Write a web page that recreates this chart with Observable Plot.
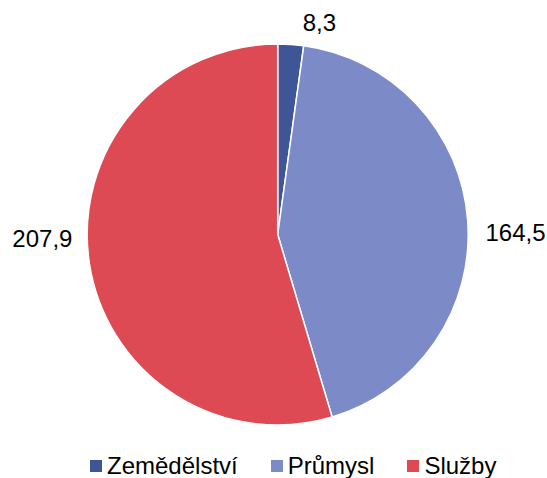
<!DOCTYPE html>
<html><head><meta charset="utf-8">
<script src="https://cdn.jsdelivr.net/npm/d3@7"></script>
<script src="https://cdn.jsdelivr.net/npm/@observablehq/plot@0.6"></script>
<style>
body{margin:0;background:#fff;font-family:"Liberation Sans",Arial,sans-serif}
#chart svg{display:block}
.lg-swatches{margin:0 !important;padding-left:90px;height:32px;min-height:32px !important;font-family:"Liberation Sans",Arial,sans-serif !important;font-size:24px !important;color:#000}
.lg-swatch{margin-right:33px !important}
.lg-swatch > svg{margin-right:5px !important}
</style></head><body><div id="chart"></div>
<script>
const categories = ["Zemědělství", "Průmysl", "Služby"];
const values = [8.3, 164.5, 207.9];
const labels = ["8,3", "164,5", "207,9"];
const colors = ["#3E5696", "#7C8BC7", "#DD4A54"];

const W = 547, H = 450, R = 190.5, CX = 277.7, CY = 234.5;

const arcs = d3.pie().sort(null).value(d => d.value)(
  categories.map((c, i) => ({category: c, value: values[i], label: labels[i]}))
);
const slices = arcs.map(p => {
  const mid = (p.startAngle + p.endAngle) / 2;
  const s = Math.sin(mid), c = Math.cos(mid);
  return {
    ...p.data, start: p.startAngle, end: p.endAngle, mid,
    lx: Math.sign(s) * (1.033 * Math.abs(s) + 0.058),
    ly: 1.117 * c * Math.abs(c)
  };
});

const colorScale = Plot.scale({color: {type: "ordinal", domain: categories, range: colors}});

function pieMark(data) {
  return (index, scales) => {
    const g = d3.create("svg:g");
    const x0 = scales.x(0), y0 = scales.y(0), r = scales.x(1) - scales.x(0);
    const arc = d3.arc().innerRadius(0).outerRadius(r);
    g.attr("transform", `translate(${x0},${y0})`);
    g.selectAll("path").data(data).join("path")
      .attr("d", d => arc({startAngle: d.start, endAngle: d.end}))
      .attr("fill", d => colorScale.apply(d.category))
      .attr("stroke", "#fff").attr("stroke-width", 1.5).attr("stroke-linejoin", "round");
    return g.node();
  };
}

const textOpts = {x: "lx", y: "ly", text: "label", fontSize: 24, fill: "#000"};
const chart = Plot.plot({
  width: W, height: H, margin: 0,
  style: {fontFamily: "'Liberation Sans', Arial, sans-serif", background: "#fff"},
  x: {domain: [-CX / R, (W - CX) / R], axis: null},
  y: {domain: [-(H - CY) / R, CY / R], axis: null},
  marks: [
    pieMark(slices),
    Plot.text(slices.filter(d => d.lx >= 0), {...textOpts, textAnchor: "start"}),
    Plot.text(slices.filter(d => d.lx < 0), {...textOpts, textAnchor: "end"})
  ]
});
document.getElementById("chart").append(chart);

const legend = Plot.legend({
  color: {type: "ordinal", domain: categories, range: colors},
  legend: "swatches", swatchSize: 12, className: "lg"
});
document.getElementById("chart").append(legend);
</script></body></html>
